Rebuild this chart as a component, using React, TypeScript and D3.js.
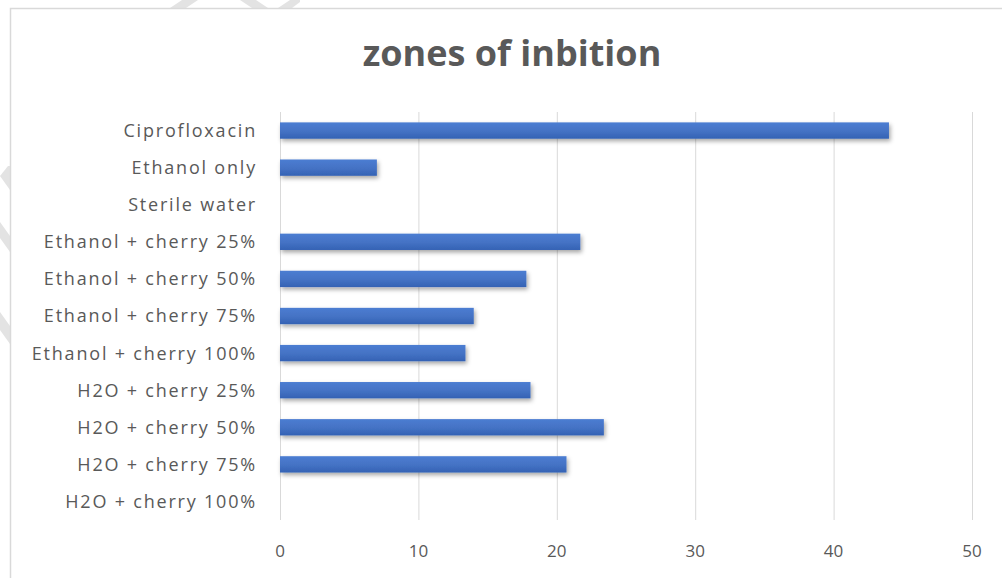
import React, { useEffect, useRef } from 'react';
import * as d3 from 'd3';

const categories = [
  'Ciprofloxacin',
  'Ethanol only',
  'Sterile water',
  'Ethanol + cherry 25%',
  'Ethanol + cherry 50%',
  'Ethanol + cherry 75%',
  'Ethanol + cherry 100%',
  'H2O + cherry 25%',
  'H2O + cherry 50%',
  'H2O + cherry 75%',
  'H2O + cherry 100%',
];
const values = [44, 7, 0, 21.7, 17.8, 14, 13.4, 18.1, 23.4, 20.7, 0];
const xTicks = [0, 10, 20, 30, 40, 50];

const W = 1002;
const H = 578;

export default function App() {
  const svgRef = useRef<SVGSVGElement>(null);

  useEffect(() => {
    if (!svgRef.current) return;
    const svg = d3.select(svgRef.current);
    svg.selectAll('*').remove();

    const left = 280, right = 972, top = 112, bottom = 520;

    const x = d3.scaleLinear().domain([0, 50]).range([left, right]);
    const y = d3.scaleBand<string>()
      .domain(categories)
      .range([top, bottom])
      .paddingInner(0.56)
      .paddingOuter(0.28);

    const defs = svg.append('defs');
    const grad = defs.append('linearGradient')
      .attr('id', 'barGrad')
      .attr('x1', 0).attr('y1', 0).attr('x2', 0).attr('y2', 1);
    grad.append('stop').attr('offset', '0%').attr('stop-color', '#4c7dd2');
    grad.append('stop').attr('offset', '55%').attr('stop-color', '#4472c4');
    grad.append('stop').attr('offset', '100%').attr('stop-color', '#3462b4');

    const shadow = defs.append('filter')
      .attr('id', 'shadow')
      .attr('x', '-5%').attr('y', '-40%').attr('width', '115%').attr('height', '200%');
    shadow.append('feDropShadow')
      .attr('dx', 1.5).attr('dy', 2.5)
      .attr('stdDeviation', 2)
      .attr('flood-color', '#000')
      .attr('flood-opacity', 0.35);

    // background
    svg.append('rect')
      .attr('x', 0).attr('y', 0).attr('width', W).attr('height', H)
      .attr('fill', '#fff');

    // faint watermark strokes at the edges
    const wm = svg.append('g').attr('fill', '#e3e3e3');
    wm.append('path').attr('d', 'M170,8 L182,0 L198,0 L186,8 Z');
    wm.append('path').attr('d', 'M240,0 L256,0 L268,8 L252,8 Z');
    wm.append('path').attr('d', 'M278,8 L290,0 L300,0 L300,2 L292,8 Z');
    wm.append('path').attr('d', 'M0,176 L8,166 L10,166 L10,190 Z');
    wm.append('path').attr('d', 'M0,222 L10,236 L10,252 L0,238 Z');
    wm.append('path').attr('d', 'M0,312 L10,326 L10,344 L0,330 Z');

    // frame
    svg.append('rect')
      .attr('x', 10.5).attr('y', 8.5).attr('width', W + 10).attr('height', H + 10)
      .attr('fill', 'none')
      .attr('stroke', '#d9d9d9')
      .attr('stroke-width', 1.5);

    // title
    svg.append('text')
      .attr('x', 512)
      .attr('y', 66)
      .attr('text-anchor', 'middle')
      .style('font-family', '"Open Sans", sans-serif')
      .style('font-weight', 'bold')
      .style('font-size', '36px')
      .style('fill', '#595959')
      .text('zones of inbition');

    // gridlines
    svg.append('g')
      .selectAll('line')
      .data(xTicks)
      .enter()
      .append('line')
      .attr('x1', d => x(d) + 0.5)
      .attr('x2', d => x(d) + 0.5)
      .attr('y1', top)
      .attr('y2', bottom)
      .attr('stroke', '#d9d9d9')
      .attr('stroke-width', 1);

    // x tick labels
    svg.append('g')
      .selectAll('text')
      .data(xTicks)
      .enter()
      .append('text')
      .attr('x', d => x(d))
      .attr('y', 557)
      .attr('text-anchor', 'middle')
      .style('font-family', '"Open Sans", sans-serif')
      .style('font-size', '17px')
      .style('fill', '#595959')
      .text(d => d);

    // category labels
    svg.append('g')
      .selectAll('text')
      .data(categories)
      .enter()
      .append('text')
      .attr('x', 257)
      .attr('y', d => (y(d) ?? 0) + y.bandwidth() / 2)
      .attr('dy', '0.36em')
      .attr('text-anchor', 'end')
      .style('font-family', '"Open Sans", sans-serif')
      .style('font-size', '18px')
      .style('letter-spacing', '1.8px')
      .style('fill', '#595959')
      .text(d => d);

    // bars
    svg.append('g')
      .selectAll('rect')
      .data(categories.map((c, i) => ({ c, v: values[i] })))
      .enter()
      .append('rect')
      .attr('x', x(0))
      .attr('y', d => y(d.c) ?? 0)
      .attr('width', d => x(d.v) - x(0))
      .attr('height', y.bandwidth())
      .attr('fill', 'url(#barGrad)')
      .attr('filter', 'url(#shadow)');
  }, []);

  return (
    <svg
      ref={svgRef}
      width={W}
      height={H}
      style={{ position: 'absolute', left: 0, top: 0, display: 'block' }}
    />
  );
}
